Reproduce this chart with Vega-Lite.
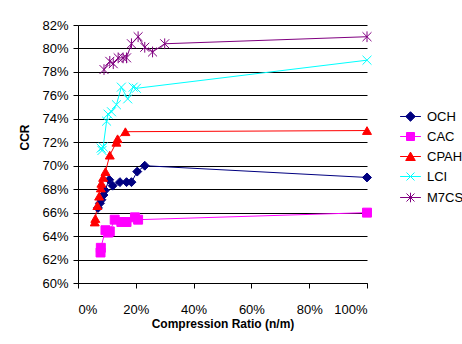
{
  "$schema": "https://vega.github.io/schema/vega-lite/v6.json",
  "autosize": {"type": "none"},
  "width": 289,
  "height": 258,
  "padding": {"left": 78, "top": 25, "right": 95, "bottom": 61},
  "background": "white",
  "config": {
    "font": "Liberation Sans",
    "view": {"stroke": null},
    "axis": {"labelFont": "Liberation Sans", "labelFontSize": 13, "labelColor": "black", "titleFont": "Liberation Sans", "titleFontSize": 12, "titleFontWeight": "bold", "titleColor": "black", "domainColor": "black", "tickColor": "black", "gridColor": "black", "gridOpacity": 1, "gridWidth": 1, "domainWidth": 1, "tickWidth": 1}
  },
  "data": {"values": [
    {"s": "OCH", "x": 6.9, "y": 66.4},
    {"s": "OCH", "x": 7.6, "y": 66.8},
    {"s": "OCH", "x": 8.1, "y": 67.1},
    {"s": "OCH", "x": 8.8, "y": 67.5},
    {"s": "OCH", "x": 9.3, "y": 67.9},
    {"s": "OCH", "x": 10.8, "y": 68.8},
    {"s": "OCH", "x": 12.0, "y": 68.3},
    {"s": "OCH", "x": 14.5, "y": 68.6},
    {"s": "OCH", "x": 16.8, "y": 68.6},
    {"s": "OCH", "x": 18.5, "y": 68.6},
    {"s": "OCH", "x": 20.5, "y": 69.5},
    {"s": "OCH", "x": 23.1, "y": 70.0},
    {"s": "OCH", "x": 100, "y": 69.0},
    {"s": "CAC", "x": 7.8, "y": 62.6},
    {"s": "CAC", "x": 7.9, "y": 63.0},
    {"s": "CAC", "x": 9.5, "y": 64.5},
    {"s": "CAC", "x": 10.5, "y": 64.3},
    {"s": "CAC", "x": 11.0, "y": 64.4},
    {"s": "CAC", "x": 12.7, "y": 65.4},
    {"s": "CAC", "x": 15.0, "y": 65.2},
    {"s": "CAC", "x": 16.8, "y": 65.2},
    {"s": "CAC", "x": 19.7, "y": 65.6},
    {"s": "CAC", "x": 20.8, "y": 65.4},
    {"s": "CAC", "x": 100, "y": 66.0},
    {"s": "CPAH", "x": 5.8, "y": 65.2},
    {"s": "CPAH", "x": 6.0, "y": 65.5},
    {"s": "CPAH", "x": 6.7, "y": 66.6},
    {"s": "CPAH", "x": 7.3, "y": 67.4},
    {"s": "CPAH", "x": 7.9, "y": 68.1},
    {"s": "CPAH", "x": 8.1, "y": 68.5},
    {"s": "CPAH", "x": 8.7, "y": 69.0},
    {"s": "CPAH", "x": 9.5, "y": 69.5},
    {"s": "CPAH", "x": 11.0, "y": 70.9},
    {"s": "CPAH", "x": 13.3, "y": 72.0},
    {"s": "CPAH", "x": 13.7, "y": 72.3},
    {"s": "CPAH", "x": 16.4, "y": 72.9},
    {"s": "CPAH", "x": 100, "y": 73.0},
    {"s": "LCI", "x": 8.0, "y": 71.5},
    {"s": "LCI", "x": 8.3, "y": 71.3},
    {"s": "LCI", "x": 8.7, "y": 71.6},
    {"s": "LCI", "x": 9.9, "y": 73.8},
    {"s": "LCI", "x": 10.4, "y": 74.4},
    {"s": "LCI", "x": 11.6, "y": 74.6},
    {"s": "LCI", "x": 13.3, "y": 75.2},
    {"s": "LCI", "x": 15.0, "y": 76.7},
    {"s": "LCI", "x": 17.2, "y": 75.7},
    {"s": "LCI", "x": 19.1, "y": 76.7},
    {"s": "LCI", "x": 20.2, "y": 76.6},
    {"s": "LCI", "x": 100, "y": 79.0},
    {"s": "M7CS", "x": 9.0, "y": 78.2},
    {"s": "M7CS", "x": 11.0, "y": 78.9},
    {"s": "M7CS", "x": 12.2, "y": 78.7},
    {"s": "M7CS", "x": 13.9, "y": 79.2},
    {"s": "M7CS", "x": 15.6, "y": 79.2},
    {"s": "M7CS", "x": 16.8, "y": 79.2},
    {"s": "M7CS", "x": 18.5, "y": 80.4},
    {"s": "M7CS", "x": 20.8, "y": 81.0},
    {"s": "M7CS", "x": 23.1, "y": 80.1},
    {"s": "M7CS", "x": 25.8, "y": 79.7},
    {"s": "M7CS", "x": 30.0, "y": 80.4},
    {"s": "M7CS", "x": 100, "y": 81.0}
  ]},
  "encoding": {
    "x": {"field": "x", "type": "quantitative", "scale": {"domain": [0, 100], "nice": false}, "axis": {"title": "Compression Ratio (n/m)", "values": [0, 20, 40, 60, 80, 100], "labelExpr": "datum.value + '%'", "grid": false, "tickSize": 5, "labelPadding": 15, "titlePadding": 2}},
    "y": {"field": "y", "type": "quantitative", "scale": {"domain": [60, 82], "nice": false, "zero": false}, "axis": {"title": "CCR", "values": [60, 62, 64, 66, 68, 70, 72, 74, 76, 78, 80, 82], "labelExpr": "datum.value + '%'", "grid": true, "tickSize": 5, "labelPadding": 5, "titleX": -47, "titleY": 112}}
  },
  "layer": [
    {
      "mark": {"type": "line", "strokeWidth": 1},
      "encoding": {
        "color": {"field": "s", "type": "nominal", "scale": {"domain": ["OCH", "CAC", "CPAH", "LCI", "M7CS"], "range": ["#000080", "#FF00FF", "#FF0000", "#00FFFF", "#800080"]}, "legend": null}
      }
    },
    {
      "mark": {"type": "point", "filled": true, "strokeWidth": 1, "opacity": 1},
      "encoding": {
        "shape": {"field": "s", "type": "nominal", "scale": {"domain": ["OCH", "CAC", "CPAH", "LCI", "M7CS"], "range": ["diamond", "square", "triangle-up", "M-1,-1L1,1M-1,1L1,-1", "M-1,-1L1,1M-1,1L1,-1M0,-1.2L0,1.2"]}, "legend": null},
        "fill": {"field": "s", "type": "nominal", "scale": {"domain": ["OCH", "CAC", "CPAH", "LCI", "M7CS"], "range": ["#000080", "#FF00FF", "#FF0000", "#00FFFF", "#800080"]}, "legend": null},
        "stroke": {"field": "s", "type": "nominal", "scale": {"domain": ["OCH", "CAC", "CPAH", "LCI", "M7CS"], "range": ["#000080", "#FF00FF", "#FF0000", "#00FFFF", "#800080"]}, "legend": null},
        "size": {"value": 80}
      }
    },
    {
      "mark": {"type": "point", "filled": true, "strokeWidth": 1, "opacity": 0},
      "encoding": {
        "shape": {"field": "s", "type": "nominal", "scale": {"domain": ["OCH", "CAC", "CPAH", "LCI", "M7CS"], "range": ["M-2.6,0H2.6M0,-1.2L1.2,0L0,1.2L-1.2,0Z", "M-2.6,0H2.6M-1,-1H1V1H-1Z", "M-2.6,0H2.6M0,-1.1L1.2,1L-1.2,1Z", "M-2.6,0H2.6M-1,-1L1,1M-1,1L1,-1", "M-2.6,0H2.6M-1,-1L1,1M-1,1L1,-1M0,-1.2L0,1.2"]}, "legend": {"title": null, "orient": "none", "legendX": 326, "legendY": 85, "symbolSize": 64, "symbolStrokeWidth": 1, "symbolOpacity": 1, "labelFont": "Liberation Sans", "labelFontSize": 13, "labelColor": "black", "rowPadding": 6, "labelOffset": 10}},
        "fill": {"field": "s", "type": "nominal", "scale": {"domain": ["OCH", "CAC", "CPAH", "LCI", "M7CS"], "range": ["#000080", "#FF00FF", "#FF0000", "#00FFFF", "#800080"]}},
        "stroke": {"field": "s", "type": "nominal", "scale": {"domain": ["OCH", "CAC", "CPAH", "LCI", "M7CS"], "range": ["#000080", "#FF00FF", "#FF0000", "#00FFFF", "#800080"]}}
      }
    }
  ],
  "resolve": {"scale": {"shape": "independent", "fill": "independent", "stroke": "independent"}, "legend": {"shape": "independent", "fill": "independent", "stroke": "independent"}}
}
